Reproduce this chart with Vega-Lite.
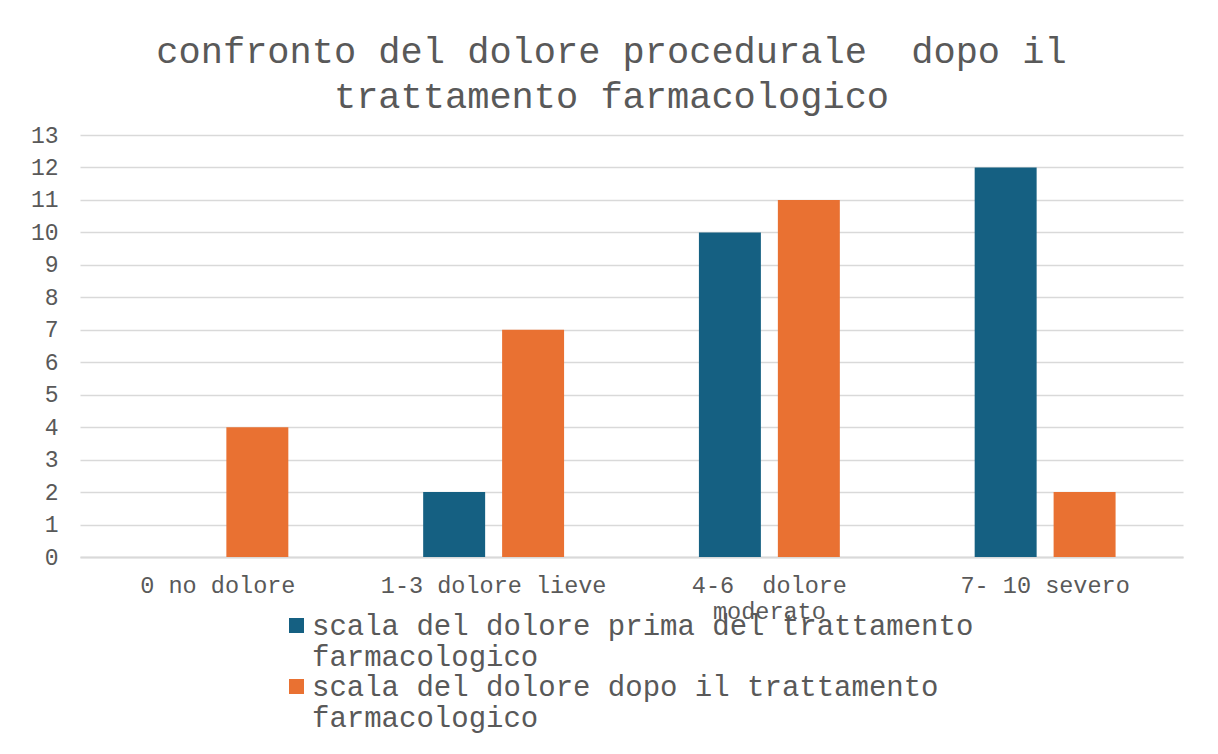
{
  "$schema": "https://vega.github.io/schema/vega-lite/v6.json",
  "width": 1103,
  "height": 422,
  "autosize": "none",
  "padding": {"left": 80, "top": 135, "right": 35, "bottom": 197},
  "background": "white",
  "title": {
    "text": ["confronto del dolore procedurale \u00a0dopo il", "trattamento farmacologico"],
    "font": "Liberation Mono",
    "fontSize": 37,
    "fontWeight": "normal",
    "color": "#595959",
    "lineHeight": 45,
    "anchor": "middle",
    "dx": -20,
    "offset": 8
  },
  "data": {
    "values": [
      {"categoria": "0 no dolore", "serie": "scala del dolore prima del trattamento farmacologico", "valore": 0},
      {"categoria": "0 no dolore", "serie": "scala del dolore dopo il trattamento farmacologico", "valore": 4},
      {"categoria": "1-3 dolore lieve", "serie": "scala del dolore prima del trattamento farmacologico", "valore": 2},
      {"categoria": "1-3 dolore lieve", "serie": "scala del dolore dopo il trattamento farmacologico", "valore": 7},
      {"categoria": "4-6  dolore moderato", "serie": "scala del dolore prima del trattamento farmacologico", "valore": 10},
      {"categoria": "4-6  dolore moderato", "serie": "scala del dolore dopo il trattamento farmacologico", "valore": 11},
      {"categoria": "7- 10 severo", "serie": "scala del dolore prima del trattamento farmacologico", "valore": 12},
      {"categoria": "7- 10 severo", "serie": "scala del dolore dopo il trattamento farmacologico", "valore": 2}
    ]
  },
  "mark": {"type": "bar"},
  "encoding": {
    "x": {
      "field": "categoria",
      "type": "nominal",
      "sort": null,
      "scale": {"paddingInner": 0.489, "paddingOuter": 0.2445},
      "axis": {
        "title": null,
        "labelAngle": 0,
        "labelFont": "Liberation Mono",
        "labelFontSize": 23.5,
        "labelColor": "#595959",
        "labelPadding": 16,
        "labelLineHeight": 26,
        "labelBaseline": "top",
        "labelLimit": 400,
        "ticks": false,
        "tickSize": 0,
        "domainColor": "#d9d9d9",
        "domainWidth": 2,
        "labelExpr": "datum.value == '4-6  dolore moderato' ? ['4-6 \u00a0dolore', 'moderato'] : datum.value"
      }
    },
    "xOffset": {
      "field": "serie",
      "type": "nominal",
      "sort": ["scala del dolore prima del trattamento farmacologico", "scala del dolore dopo il trattamento farmacologico"],
      "scale": {"paddingInner": 0.215, "paddingOuter": 0}
    },
    "y": {
      "field": "valore",
      "type": "quantitative",
      "scale": {"domain": [0, 13], "nice": false},
      "axis": {
        "title": null,
        "values": [0,1,2,3,4,5,6,7,8,9,10,11,12,13],
        "labelFont": "Liberation Mono",
        "labelFontSize": 23,
        "labelColor": "#595959",
        "labelPadding": 22,
        "ticks": false,
        "tickSize": 0,
        "domain": false,
        "gridColor": "#d9d9d9",
        "gridWidth": 1.5
      }
    },
    "color": {
      "field": "serie",
      "type": "nominal",
      "sort": ["scala del dolore prima del trattamento farmacologico", "scala del dolore dopo il trattamento farmacologico"],
      "scale": {"range": ["#156082", "#E97132"]},
      "legend": {
        "title": null,
        "orient": "none",
        "legendX": 202,
        "legendY": 476,
        "direction": "vertical",
        "symbolType": "square",
        "symbolSize": 225,
        "symbolStrokeWidth": 0,
        "symbolOpacity": 1,
        "labelFont": "Liberation Mono",
        "labelFontSize": 29,
        "labelColor": "#595959",
        "labelLineHeight": 32,
        "labelLimit": 900,
        "labelOffset": 1,
        "labelBaseline": "middle",
        "rowPadding": 0,
        "labelExpr": "datum.value == 'scala del dolore prima del trattamento farmacologico' ? ['scala del dolore prima del trattamento', 'farmacologico'] : ['scala del dolore dopo il trattamento', 'farmacologico']"
      }
    }
  },
  "config": {
    "view": {"stroke": null}
  }
}
